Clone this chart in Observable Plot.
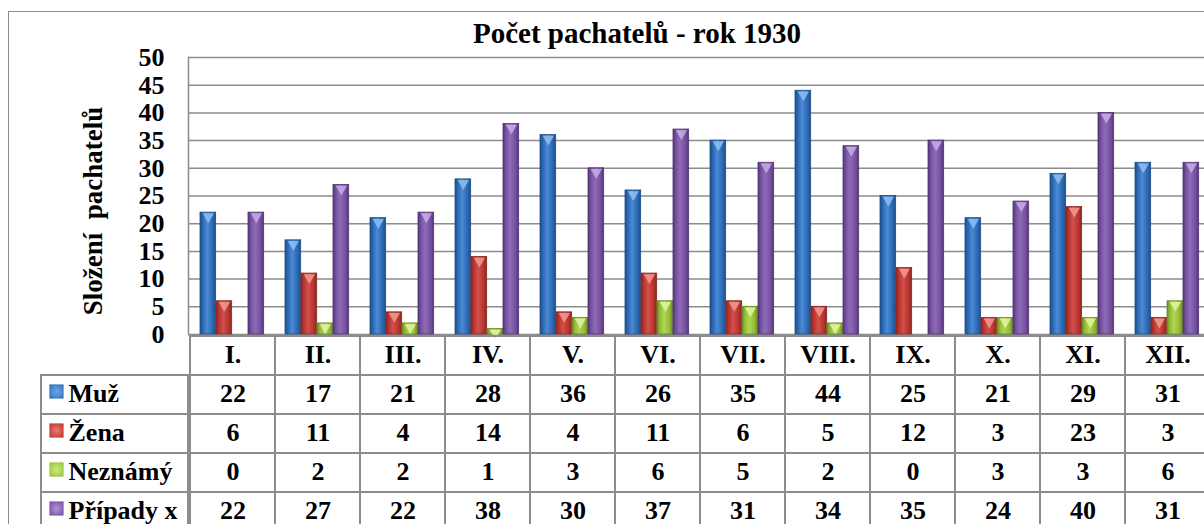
<!DOCTYPE html>
<html><head><meta charset="utf-8">
<script src="https://cdn.jsdelivr.net/npm/d3@7"></script>
<script src="https://cdn.jsdelivr.net/npm/@observablehq/plot@0.6"></script>
<style>
body{margin:0;background:#fff;}
#wrap{position:relative;width:1204px;height:524px;overflow:hidden;background:#fff;font-family:"Liberation Serif","Times New Roman",serif;font-weight:bold;color:#000;}
#wrap svg.plot-layer{position:absolute;left:0;top:0;}
#border{position:absolute;left:8px;top:11px;width:1400px;height:700px;border-left:1.5px solid #8c8c8c;border-top:1.5px solid #8c8c8c;}
#title{position:absolute;left:0;width:1274px;top:17px;text-align:center;font-size:29px;line-height:32px;white-space:nowrap;}
#ylabel{position:absolute;left:93px;top:211px;transform:translate(-50%,-50%) rotate(-90deg);font-size:27px;white-space:pre;line-height:30px;}
</style>
</head><body>
<div id="wrap">
  <div id="border"></div>
  <div id="title"></div>
  <div id="ylabel"></div>
</div>
<svg width="0" height="0" style="position:absolute" id="defs-svg"><defs id="gdefs"></defs></svg>
<script>
// ---- data ----
const months = ["I.","II.","III.","IV.","V.","VI.","VII.","VIII.","IX.","X.","XI.","XII."];
const muz     = [22,17,21,28,36,26,35,44,25,21,29,31];
const zena    = [6,11,4,14,4,11,6,5,12,3,23,3];
const neznamy = [0,2,2,1,3,6,5,2,0,3,3,6];
const pripady = [22,27,22,38,30,37,31,34,35,24,40,31];
const seriesNames = ["Muž","Žena","Neznámý","Případy x"];
const seriesValues = [muz, zena, neznamy, pripady];
const yTicks = [0,5,10,15,20,25,30,35,40,45,50];
const titleText = "Počet pachatelů - rok 1930";
const yLabelText = "Složení  pachatelů";

// ---- styles ----
const palette = [
  {dark:"#1d4e8c", mid:"#2c68b0", light:"#4a8ad6", cap:"#8fc0f0", key:"#6fa3e0"},
  {dark:"#8b2523", mid:"#b8352f", light:"#d4504a", cap:"#f29a94", key:"#e87a74"},
  {dark:"#6a8a22", mid:"#93bb35", light:"#b0d654", cap:"#e0f5a0", key:"#c8e684"},
  {dark:"#513676", mid:"#75509e", light:"#8e6bb8", cap:"#c8aee8", key:"#ad92d2"}
];
const gdefs = d3.select("#gdefs");
palette.forEach((p,i)=>{
  const g = gdefs.append("linearGradient").attr("id","g"+i).attr("x1","0").attr("x2","1").attr("y1","0").attr("y2","0");
  [[0,p.dark],[0.18,p.mid],[0.45,p.light],[0.8,p.mid],[1,p.dark]].forEach(([o,c])=>g.append("stop").attr("offset",o).attr("stop-color",c));
  const r = gdefs.append("radialGradient").attr("id","k"+i).attr("cx","0.5").attr("cy","0.5").attr("r","0.75");
  [[0,p.key],[0.55,p.light],[1,p.mid]].forEach(([o,c])=>r.append("stop").attr("offset",o).attr("stop-color",c));
});

document.getElementById("title").textContent = titleText;
document.getElementById("ylabel").textContent = yLabelText;

const W = 1204, H = 524;
const xRange = [188, 1212];
const BW = (xRange[1]-xRange[0]) / months.length;
const BAR = 16, OFF = 10;
const font = {fontFamily:"'Liberation Serif','Times New Roman',serif", fontWeight:"bold", fontSize:"26px", background:"transparent", color:"#000"};

// ---- chart layer ----
const barMarks = [];
seriesValues.forEach((vals,i)=>{
  const data = months.map((m,j)=>({m, v: vals[j]}));
  const inL = OFF + BAR*i, inR = BW - OFF - BAR*(i+1);
  barMarks.push(Plot.barY(data, {x:"m", y:"v", filter:d=>d.v>0, fill:`url(#g${i})`, stroke:palette[i].dark, strokeWidth:0.8, insetLeft:inL, insetRight:inR}));
  barMarks.push(Plot.dot(data, {x:"m", y:"v", filter:d=>d.v>0, symbol:"triangle", rotate:180, r:4.2, fill:palette[i].cap, fillOpacity:0.85, stroke:"none", dx: inL + BAR/2 - BW/2, dy:4}));
});

const chart = Plot.plot({
  width:W, height:H,
  marginLeft:188, marginRight:W-xRange[1], marginTop:57, marginBottom:H-334,
  style: font,
  x:{type:"band", domain:months, range:xRange, padding:0, axis:null},
  y:{domain:[0,50], range:[334,57], axis:null},
  marks:[
    Plot.ruleY(yTicks, {stroke:"#8c8c8c", strokeWidth:1.5}),
    Plot.frame({anchor:"left", stroke:"#8c8c8c", strokeWidth:1.5}),
    Plot.axisY({ticks:yTicks, tickSize:0, tickPadding:24, label:null, fill:"#000", fontSize:26, fontWeight:"bold"}),
    ...barMarks
  ]
});
chart.classList.add("plot-layer");

// ---- data table layer ----
const rows = ["hdr", ...seriesNames];
const tableCells = [];
months.forEach((m,j)=>{
  tableCells.push({m, r:"hdr", t:m});
  seriesNames.forEach((s,i)=>tableCells.push({m, r:s, t:String(seriesValues[i][j])}));
});
const yTable = {type:"band", domain:rows, range:[334,532], padding:0, axis:null};
const table = Plot.plot({
  width:W, height:H,
  style: font,
  x:{type:"band", domain:months, range:xRange, padding:0, axis:null},
  y:yTable,
  marks:[
    Plot.cell(tableCells, {x:"m", y:"r", fill:"none", stroke:"#8c8c8c", strokeWidth:2, inset:0}),
    Plot.text(tableCells, {x:"m", y:"r", text:"t", fill:"#000", fontSize:26, fontWeight:"bold", dy:-1})
  ]
});
table.classList.add("plot-layer");

// ---- legend column layer ----
const legendRows = seriesNames.map((s,i)=>({k:"key", r:s, i}));
const legend = Plot.plot({
  width:W, height:H,
  style: font,
  x:{type:"band", domain:["key"], range:[41,188], padding:0, axis:null},
  y:yTable,
  marks:[
    Plot.cell(legendRows, {x:"k", y:"r", fill:"none", stroke:"#8c8c8c", strokeWidth:2, inset:0}),
    Plot.dot(legendRows, {x:"k", y:"r", symbol:"square", r:7.6, fill:d=>`url(#k${d.i})`, stroke:d=>palette[d.i].mid, strokeWidth:0.6, dx:56-114.5, dy:-3.5}),
    Plot.text(legendRows, {x:"k", y:"r", text:"r", textAnchor:"start", dx:68-114.5, dy:-1, fill:"#000", fontSize:26, fontWeight:"bold"})
  ]
});
legend.classList.add("plot-layer");

const wrap = document.getElementById("wrap");
wrap.appendChild(chart);
wrap.appendChild(table);
wrap.appendChild(legend);
</script>
</body></html>
